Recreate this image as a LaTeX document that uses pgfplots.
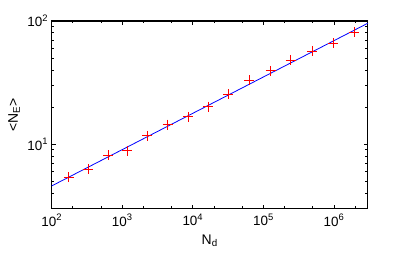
\documentclass[border=0pt]{standalone}
\usepackage{fontspec}
\setmainfont{Liberation Sans}
\usepackage{pgfplots}
\pgfplotsset{compat=1.18}
\begin{document}
\begin{tikzpicture}
\path[use as bounding box] (-51.7bp,-70.3bp) rectangle (347.3bp,208.7bp);
\begin{axis}[
  at={(0,0)}, anchor=south west,
  scale only axis, width=316bp, height=187.7bp,
  xmode=log, ymode=log,
  xmin=100, xmax=3e6, ymin=3, ymax=100,
  axis line style={line width=1.3pt},
  tick style={black, line width=0.9pt},
  major tick length=4bp, minor tick length=2.5bp,
  xtick={1e2,1e3,1e4,1e5,1e6},
  xticklabels={10\textsuperscript{2},10\textsuperscript{3},10\textsuperscript{4},10\textsuperscript{5},10\textsuperscript{6}},
  minor xtick={200,500,2000,5000,20000,50000,2e5,5e5,2e6},
  ytick={10,100},
  yticklabels={10\textsuperscript{1},10\textsuperscript{2}},
  minor ytick={3,4,5,6,7,8,9,20,30,40,50,60,70,80,90},
  ticklabel style={font=\fontsize{13.5}{15}\selectfont},
  xticklabel style={yshift=-2bp},
  label style={font=\fontsize{14}{16}\selectfont},
  xlabel={N\textsubscript{d}},
  ylabel={<N\textsubscript{E}>},
  xlabel style={at={(axis description cs:0.5,-0.17)}, anchor=center},
  ylabel style={at={(axis description cs:-0.119,0.5)}, anchor=center},
  clip=false,
]
\addplot[blue, line width=0.8pt] coordinates {(100,4.59) (3e6,95.8)};
\addplot[only marks, red, mark=+, mark size=5bp, mark options={line width=0.8pt}] coordinates {
(175,5.38) (330,6.30) (630,8.11) (1180,8.85) (2260,11.7) (4390,14.4) (8570,16.7) (16400,20.2) (31600,25.5) (62700,33.2) (126000,39.4) (242000,48.3) (489000,57.2) (968000,65.9) (1920000,81.1)};
\end{axis}
\end{tikzpicture}
\end{document}
